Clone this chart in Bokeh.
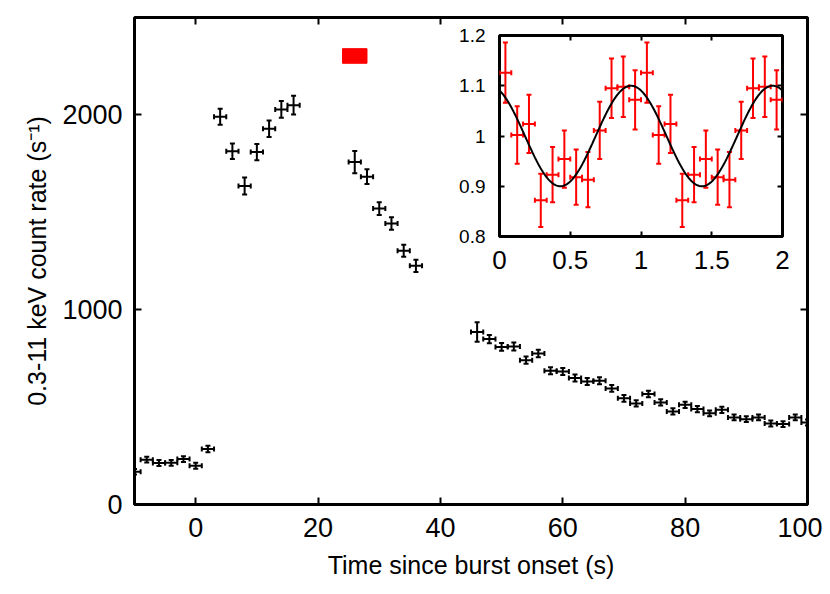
import numpy as np
from bokeh.plotting import figure
from bokeh.models import Range1d, FixedTicker, LinearAxis, ColumnDataSource, GridBox
from bokeh.embed import file_html
from bokeh.resources import INLINE

FONT = "Liberation Sans"

# ---- main light curve (2 s bins) ----
time_s = [-10, -8, -6, -4, -2, 0, 2,
          4, 6, 8, 10, 12, 14, 16,
          26, 28, 30, 32, 34, 36,
          46, 48, 50, 52, 54, 56, 58, 60, 62, 64, 66, 68, 70, 72, 74, 76,
          78, 80, 82, 84, 86, 88, 90, 92, 94, 96, 98, 100]
rate = [168, 230, 213, 214, 233, 199, 285,
        1991, 1813, 1635, 1809, 1929, 2028, 2050,
        1758, 1683, 1519, 1442, 1303, 1225,
        886, 849, 809, 811, 741, 775, 686, 683, 649, 632, 635, 596, 545, 519, 567, 524,
        478, 512, 490, 468, 486, 447, 438, 447, 416, 413, 447, 421]
rate_err = [14, 15, 15, 15, 15, 15, 17,
            41, 40, 44, 42, 42, 43, 48,
            57, 38, 33, 32, 31, 31,
            50, 21, 20, 20, 19, 19, 18, 18, 18, 18, 18, 17, 17, 16, 17, 16,
            16, 16, 16, 15, 16, 15, 15, 15, 15, 15, 15, 15]
bin_half_width = 1.0

# red marker: interval used for the pulse profile
marker_time = [24, 28]
marker_rate = [2265, 2340]

x_ticks = [0, 20, 40, 60, 80, 100]
y_ticks = [0, 1000, 2000]

# ---- inset: folded pulse profile (12 bins, shown twice) ----
phase_bins = [0.0417, 0.125, 0.2083, 0.2917, 0.375, 0.4583,
              0.5417, 0.625, 0.7083, 0.7917, 0.875, 0.9583]
norm_rate = [1.126, 1.002, 1.024, 0.872, 0.923, 0.954,
             0.918, 0.913, 1.011, 1.095, 1.098, 1.072]
norm_err = [0.060, 0.057, 0.058, 0.053, 0.055, 0.057,
            0.055, 0.055, 0.057, 0.059, 0.060, 0.059]
phase_half_width = 0.0417
# sinusoidal model fitted to the profile
model_mean = 1.0
model_amplitude = 0.1
model_peak_phase = 0.93

inset_x_ticks = [0, 0.5, 1, 1.5, 2]
inset_x_labels = ["0", "0.5", "1", "1.5", "2"]
inset_y_ticks = [0.8, 0.9, 1.0, 1.1, 1.2]
inset_y_labels = ["0.8", "0.9", "1", "1.1", "1.2"]


def errorbars(fig, x, y, yerr, xhalf, color, lw, cap):
    x = np.asarray(x, float)
    y = np.asarray(y, float)
    yerr = np.asarray(yerr, float)
    src = ColumnDataSource(dict(x=x, y=y, ylo=y - yerr, yhi=y + yerr,
                                xlo=x - xhalf, xhi=x + xhalf))
    fig.segment(x0="x", y0="ylo", x1="x", y1="yhi", source=src,
                line_color=color, line_width=lw)
    fig.segment(x0="xlo", y0="y", x1="xhi", y1="y", source=src,
                line_color=color, line_width=lw)
    for yc in ("ylo", "yhi"):
        fig.scatter(x="x", y=yc, source=src, marker="dash", size=cap,
                    line_color=color, line_width=lw)
    for xc in ("xlo", "xhi"):
        fig.scatter(x=xc, y="y", source=src, marker="dash", size=cap,
                    angle=np.pi / 2, line_color=color, line_width=lw)


def mirror_axes(fig, xt, yt, tick_len):
    top = LinearAxis(ticker=FixedTicker(ticks=xt),
                     major_label_overrides={t: "" for t in xt},
                     axis_line_color=None, major_tick_in=tick_len,
                     major_tick_out=0, major_tick_line_width=2,
                     minor_tick_line_color=None, major_label_standoff=0)
    right = LinearAxis(ticker=FixedTicker(ticks=yt),
                       major_label_overrides={t: "" for t in yt},
                       axis_line_color=None, major_tick_in=tick_len,
                       major_tick_out=0, major_tick_line_width=2,
                       minor_tick_line_color=None, major_label_standoff=0)
    fig.add_layout(top, "above")
    fig.add_layout(right, "right")


# ================= main figure =================
p = figure(frame_width=673, frame_height=487,
           min_border_left=134, min_border_right=15,
           min_border_top=17, min_border_bottom=82,
           x_range=Range1d(-10, 100), y_range=Range1d(0, 2500),
           output_backend="svg", toolbar_location=None)
p.xgrid.visible = False
p.ygrid.visible = False
p.outline_line_color = "black"
p.outline_line_width = 3
p.outline_line_alpha = 1

p.xaxis.ticker = FixedTicker(ticks=x_ticks)
p.yaxis.ticker = FixedTicker(ticks=y_ticks)
for ax in (p.xaxis[0], p.yaxis[0]):
    ax.axis_line_color = None
    ax.major_tick_in = 7
    ax.major_tick_out = 0
    ax.major_tick_line_width = 2
    ax.minor_tick_line_color = None
    ax.major_label_text_font = FONT
    ax.major_label_text_font_size = "27px"
    ax.major_label_text_color = "black"
    ax.axis_label_text_font = FONT
    ax.axis_label_text_font_size = "25px"
    ax.axis_label_text_font_style = "normal"
    ax.axis_label_text_color = "black"
p.xaxis.axis_label = "Time since burst onset (s)"
p.yaxis.axis_label = "0.3-11 keV count rate (s\u207b\u00b9)"
p.xaxis.major_label_standoff = 13
p.xaxis.axis_label_standoff = 11
p.yaxis.major_label_standoff = 12
p.yaxis.axis_label_standoff = 8
mirror_axes(p, x_ticks, y_ticks, 7)

errorbars(p, time_s, rate, rate_err, bin_half_width, "black", 2, 5)
p.quad(left=[marker_time[0]], right=[marker_time[1]],
       bottom=[marker_rate[0]], top=[marker_rate[1]],
       fill_color="red", line_color="red", line_width=1)

# ================= inset =================
q = figure(frame_width=283, frame_height=201,
           min_border_left=49, min_border_right=10,
           min_border_top=9, min_border_bottom=45,
           x_range=Range1d(0, 2), y_range=Range1d(0.8, 1.2),
           output_backend="svg", toolbar_location=None,
           background_fill_color="white", border_fill_alpha=0)
q.xgrid.visible = False
q.ygrid.visible = False
q.outline_line_color = "black"
q.outline_line_width = 3
q.outline_line_alpha = 1
q.xaxis.ticker = FixedTicker(ticks=inset_x_ticks)
q.yaxis.ticker = FixedTicker(ticks=inset_y_ticks)
q.xaxis.major_label_overrides = dict(zip(inset_x_ticks, inset_x_labels))
q.yaxis.major_label_overrides = dict(zip(inset_y_ticks, inset_y_labels))
for ax in (q.xaxis[0], q.yaxis[0]):
    ax.axis_line_color = None
    ax.major_tick_in = 5
    ax.major_tick_out = 0
    ax.major_tick_line_width = 2
    ax.minor_tick_line_color = None
    ax.major_label_text_font = FONT
    ax.major_label_text_color = "black"
q.xaxis.major_label_text_font_size = "26px"
q.yaxis.major_label_text_font_size = "19px"
q.xaxis.major_label_standoff = 14
q.yaxis.major_label_standoff = 14
mirror_axes(q, inset_x_ticks, inset_y_ticks, 5)

two_cycle_phase = np.concatenate([phase_bins, np.asarray(phase_bins) + 1.0])
two_cycle_rate = np.concatenate([norm_rate, norm_rate])
two_cycle_err = np.concatenate([norm_err, norm_err])
errorbars(q, two_cycle_phase, two_cycle_rate, two_cycle_err,
          phase_half_width, "red", 2, 5)

model_phase = np.linspace(0, 2, 400)
model_curve = model_mean + model_amplitude * np.cos(
    2 * np.pi * (model_phase - model_peak_phase))
q.line(model_phase, model_curve, line_color="black", line_width=2)

grid = GridBox(children=[(p, 0, 0, 3, 3), (q, 1, 1)],
               rows=["26px", "255px", "305px"],
               cols=["450px", "342px", "30px"])

open("out.html", "w").write(file_html(grid, INLINE))
